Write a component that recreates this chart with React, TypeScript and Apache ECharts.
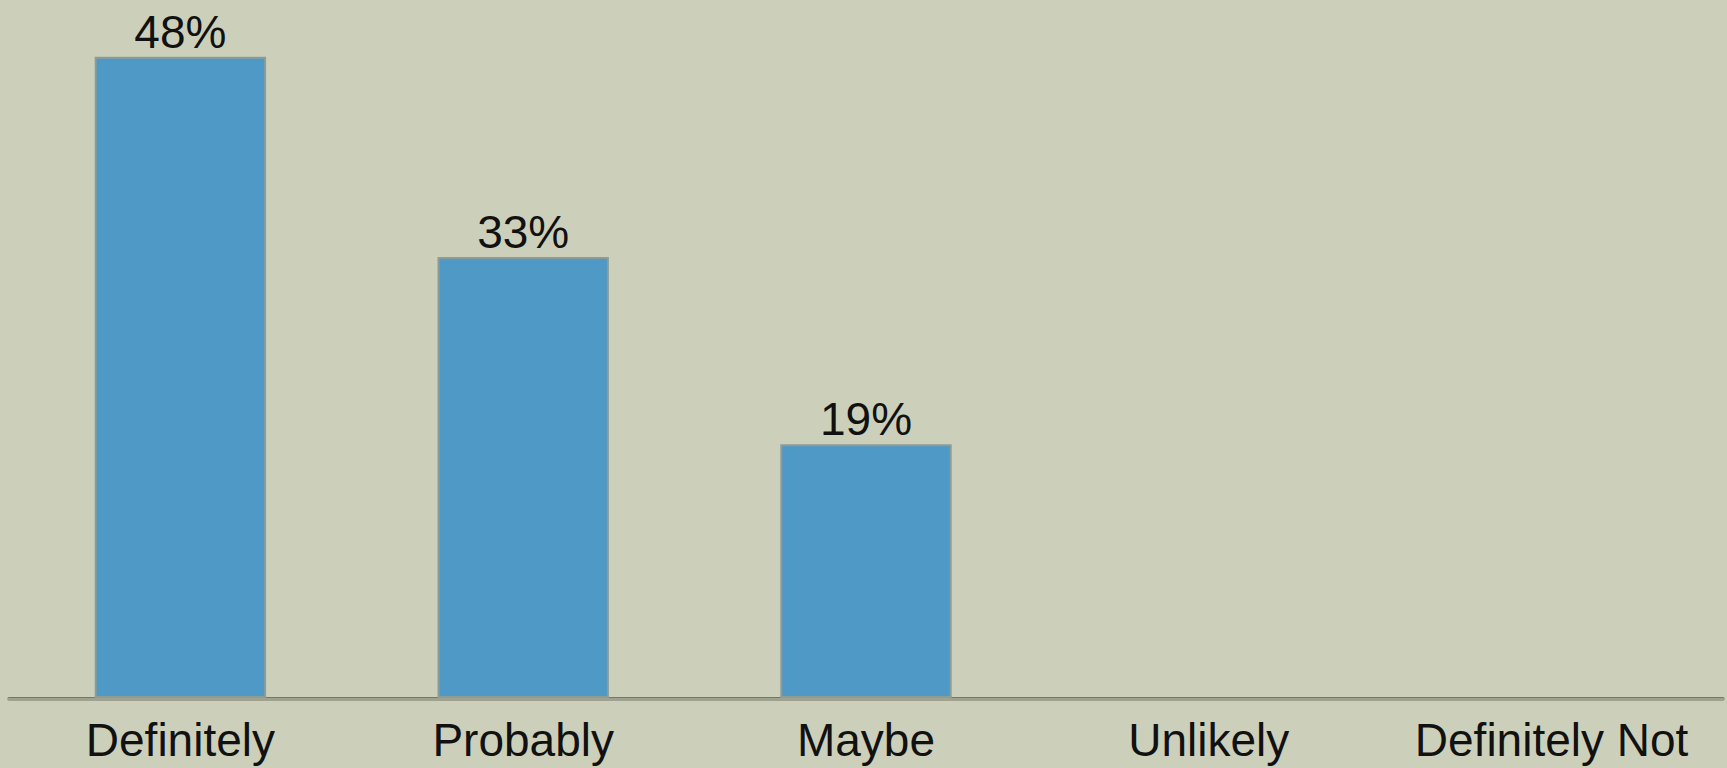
import React, { useEffect, useRef } from "react";
import * as echarts from "echarts";

const categories = ["Definitely", "Probably", "Maybe", "Unlikely", "Definitely Not"];
const percentValues = [48, 33, 19, 0, 0];

export default function App() {
  const ref = useRef<HTMLDivElement>(null);
  useEffect(() => {
    if (!ref.current) return;
    const chart = echarts.init(ref.current, null, { renderer: "svg" });
    chart.setOption({
      animation: false,
      backgroundColor: "#CCD0BA",
      grid: { left: 9, right: 4, top: 30, bottom: 70, containLabel: false },
      xAxis: [
        {
          type: "category",
          data: categories,
          offset: 4.5,
          axisLine: { show: true, lineStyle: { color: "#737968", width: 3 } },
          axisTick: { show: false },
          axisLabel: {
            color: "#111111",
            fontSize: 46,
            fontFamily: "Liberation Sans, Arial, sans-serif",
            margin: 14,
            interval: 0,
          },
          splitLine: { show: false },
        },
        {
          type: "category",
          data: categories,
          position: "bottom",
          offset: 1.5,
          axisLine: { show: true, lineStyle: { color: "#9FA28F", width: 3 } },
          axisTick: { show: false },
          axisLabel: { show: false },
          splitLine: { show: false },
        },
      ],
      yAxis: {
        type: "value",
        min: 0,
        max: 50,
        show: false,
        splitLine: { show: false },
      },
      series: [
        {
          type: "bar",
          data: percentValues.map((v) =>
            v === 0 ? { value: v, itemStyle: { borderWidth: 0, opacity: 0 } } : v
          ),
          barWidth: "50%",
          itemStyle: { color: "#4F99C7", borderColor: "#8C9C98", borderWidth: 2 },
          label: {
            show: true,
            position: "top",
            distance: 2,
            color: "#111111",
            fontSize: 46,
            fontFamily: "Liberation Sans, Arial, sans-serif",
            formatter: (p: any) => (p.value ? `${p.value}%` : ""),
          },
        },
      ],
    });
    return () => chart.dispose();
  }, []);
  return (
    <div
      ref={ref}
      style={{ position: "fixed", left: 0, top: 0, width: 1727, height: 768 }}
    />
  );
}
